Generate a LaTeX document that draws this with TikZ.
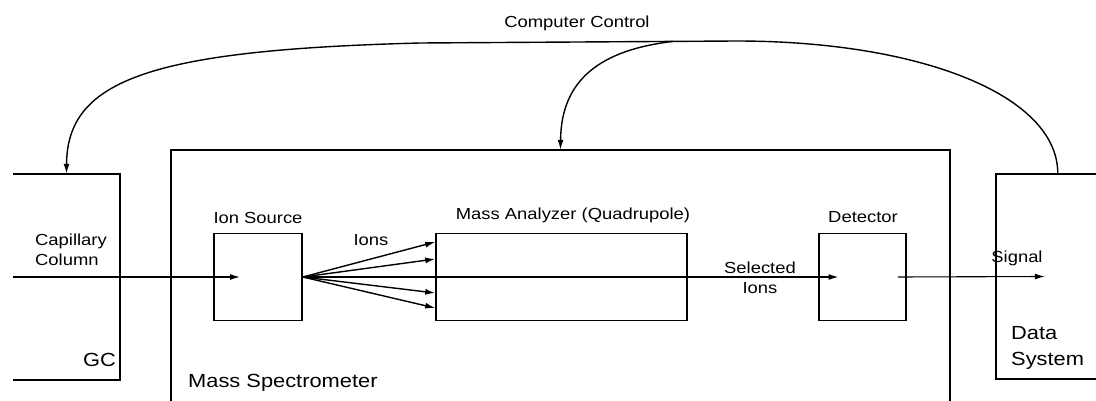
\documentclass[tikz,border=0pt]{standalone}
\usepackage{fontspec}
\setmainfont[FakeStretch=1.15]{Liberation Sans}
\usetikzlibrary{arrows.meta,calc}
\begin{document}
\begin{tikzpicture}[x=1pt,y=-1pt,
  box/.style={draw=black, line width=1.6pt, inner sep=0pt},
  frame/.style={inner sep=0pt, draw=none},
  wall/.style={line width=2.2pt},
  arr/.style={line width=1.4pt, -{Latex[length=10pt,width=6pt]}},
  lbl/.style={inner sep=0pt, font=\fontsize{16}{20}\selectfont},
  big/.style={inner sep=0pt, font=\fontsize{19}{26}\selectfont}]
\useasboundingbox[fill=white] (0,0) rectangle (1096,401);

% outer boxes (partly open)
\node[frame, minimum width=107pt, minimum height=206pt] (gc) at (66.5,277) {};
\draw[wall] (gc.north west) -- (gc.north east) -- (gc.south east) -- (gc.south west);
\node[frame, minimum width=779pt, minimum height=260pt] (ms) at (560.5,280) {};
\draw[wall] (ms.south west) -- (ms.north west) -- (ms.north east) -- (ms.south east);
\node[frame, minimum width=110pt, minimum height=205pt] (ds) at (1051,276.5) {};
\draw[wall] (ds.north east) -- (ds.north west) -- (ds.south west) -- (ds.south east);

% inner boxes
\node[box, minimum width=88pt, minimum height=87pt] (is) at (258,277) {};
\node[box, minimum width=251pt, minimum height=87pt] (ma) at (561.5,277) {};
\node[box, minimum width=87pt, minimum height=87pt] (det) at (862.5,277) {};

% connectors
\draw[arr, shorten >=18pt] (gc.west) -- (is.center);
\foreach \dy in {-35,-18,16,31}
  \draw[arr] (is.east) -- ($(ma.west)+(0,\dy)$);
\draw[arr, shorten >=24pt] (is.east) -- (det.center);
\draw[arr, line width=1.1pt] ($(det.east)+(-9,0)$) -- ($(ds.west)+(49,0)$);

% computer control curves
\coordinate (dsc) at ($(ds.north west)+(62,0)$);
\coordinate (peak) at (736,41);
\coordinate (branch) at (673,41.4);
\coordinate (bend) at (420,43);
\draw[arr] (dsc) .. controls (1058,95) and (920,41) .. (peak) -- (bend)
  .. controls (150,50) and (67,80) .. (gc.north);
\draw[arr] (branch) .. controls (600,50) and (561,80) .. (ms.north);

% labels
\node[lbl] (cc) at (577,23) {Computer Control};
\node[lbl] at (258,218) {Ion Source};
\node[lbl] at (371,240) {Ions};
\node[lbl] at (573,215) {Mass Analyzer (Quadrupole)};
\node[lbl] at (863,217) {Detector};
\node[lbl, align=center] at (760,278) {Selected\\Ions};
\node[lbl] at (1017,258) {Signal};
\node[lbl, align=left, anchor=west] at (35,250) {Capillary\\Column};
\node[big, anchor=east] at (116,360) {GC};
\node[big, anchor=west] at (188,383) {Mass Spectrometer};
\node[big, align=left, anchor=west] at (1011,348) {Data\\System};
\end{tikzpicture}
\end{document}
